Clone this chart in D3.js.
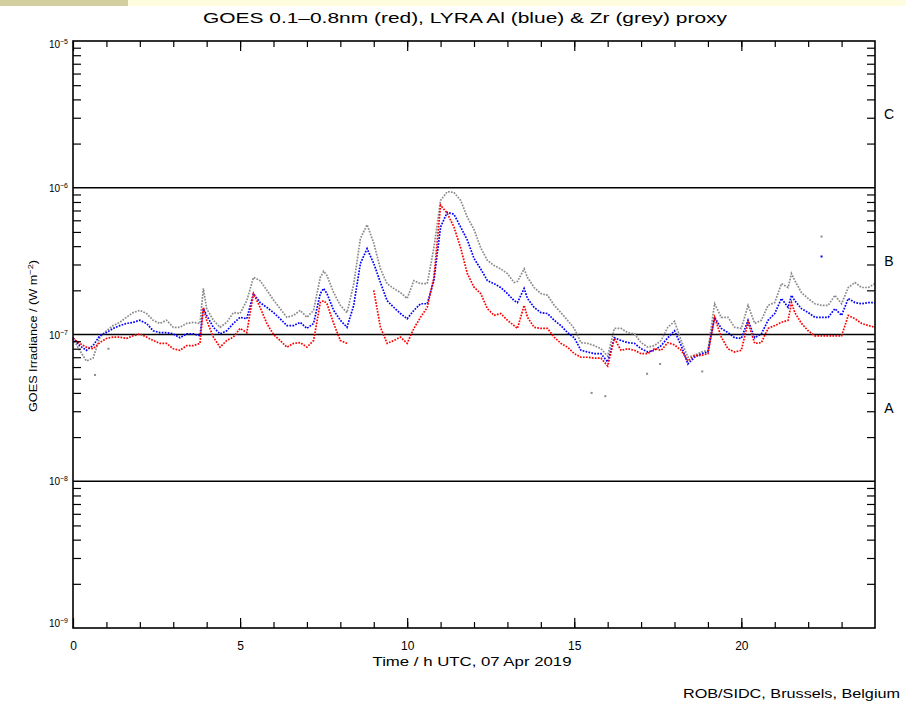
<!DOCTYPE html>
<html>
<head>
<meta charset="utf-8">
<script src="https://cdn.jsdelivr.net/npm/d3@7"></script>
<style>
  body { margin: 0; background: #fff; }
  text { font-family: "Liberation Sans", Arial, sans-serif; fill: #000; }
</style>
</head>
<body>
<svg id="chart" width="906" height="704"></svg>
<script>
// values in units of 1e-7 W m^-2
const unit = 1e-7;

const hours = [0.0,0.2,0.4,0.6,0.8,1.0,1.2,1.4,1.6,1.8,2.0,2.2,2.4,2.6,2.8,3.0,3.2,3.4,3.6,3.8,3.9,4.0,4.2,4.4,4.6,4.8,
  5.0,5.2,5.4,5.6,5.8,6.0,6.2,6.4,6.6,6.8,7.0,7.2,7.4,7.5,7.6,7.8,8.0,8.2,8.4,8.6,8.8,9.0,9.2,9.4,9.6,9.8,
  10.0,10.2,10.4,10.6,10.8,11.0,11.2,11.4,11.6,11.8,12.0,12.2,12.4,12.6,12.8,13.0,13.2,13.3,13.5,13.6,13.8,
  14.0,14.2,14.4,14.6,14.8,15.0,15.2,15.4,15.6,15.8,16.0,16.2,16.4,16.6,16.8,17.0,17.2,17.4,17.6,17.8,
  18.0,18.2,18.4,18.6,18.8,19.0,19.2,19.4,19.6,19.8,20.0,20.2,20.4,20.6,20.8,21.0,21.2,21.4,21.5,21.6,21.8,
  22.0,22.2,22.4,22.6,22.8,23.0,23.2,23.4,23.6,23.8,24.0];

const zrProxy = [0.94,0.78,0.66,0.69,0.95,1.06,1.15,1.21,1.31,1.41,1.46,1.39,1.25,1.19,1.25,1.12,1.12,1.19,1.21,1.19,2.06,1.5,1.25,1.12,1.21,1.41,
  1.39,1.7,2.45,2.33,2.0,1.72,1.5,1.31,1.35,1.46,1.31,1.46,2.45,2.7,2.52,1.93,1.58,1.41,2.2,4.5,5.6,4.2,2.8,2.22,2.06,1.93,
  1.76,2.33,2.22,2.22,3.9,8.2,9.4,9.3,8.2,6.3,5.2,3.9,3.2,2.95,2.8,2.6,2.26,2.3,2.8,2.45,2.09,
  1.9,1.85,1.58,1.41,1.25,1.1,0.88,0.87,0.84,0.80,0.71,1.1,1.1,1.03,1.01,0.88,0.82,0.84,0.91,1.12,
  1.23,0.91,0.70,0.72,0.76,0.78,1.62,1.31,1.31,1.12,1.1,1.58,1.19,1.25,1.58,1.65,2.22,2.09,2.6,2.33,1.93,
  1.76,1.62,1.58,1.58,1.85,1.62,2.09,2.26,2.09,2.09,2.22];

const alProxy = [0.95,0.84,0.78,0.84,0.98,1.03,1.1,1.15,1.19,1.21,1.25,1.19,1.06,1.03,1.03,1.01,0.95,1.01,1.01,0.98,1.5,1.35,1.12,1.01,1.06,1.19,
  1.31,1.28,1.9,1.65,1.53,1.41,1.28,1.15,1.15,1.21,1.1,1.19,1.9,2.06,1.9,1.46,1.25,1.12,1.58,3.05,3.85,3.05,2.26,1.7,1.53,1.39,
  1.28,1.46,1.62,1.62,2.33,5.4,6.8,6.6,5.4,4.4,3.3,2.8,2.33,2.22,2.09,1.9,1.7,1.65,2.06,1.76,1.53,
  1.41,1.39,1.25,1.15,1.03,0.95,0.78,0.76,0.74,0.74,0.65,0.95,0.91,0.88,0.87,0.80,0.76,0.78,0.84,0.95,
  1.06,0.84,0.63,0.70,0.74,0.76,1.31,1.1,1.03,0.95,0.94,1.25,0.95,1.01,1.25,1.39,1.76,1.53,1.85,1.7,1.5,
  1.41,1.31,1.31,1.31,1.5,1.35,1.76,1.65,1.62,1.65,1.65];

const goes = [0.94,0.87,0.82,0.80,0.88,0.94,0.96,0.96,0.94,0.98,1.01,0.96,0.91,0.87,0.87,0.80,0.78,0.84,0.84,0.87,1.53,1.25,0.96,0.82,0.91,0.96,
  1.1,1.03,1.9,1.53,1.19,1.0,0.91,0.82,0.87,0.88,0.82,0.91,1.65,1.7,1.62,1.19,0.91,0.87,null,null,null,2.0,1.12,0.87,0.91,0.96,
  0.87,1.1,1.31,1.53,2.45,7.6,6.7,5.4,3.9,2.6,2.1,1.9,1.5,1.35,1.39,1.25,1.15,1.1,1.58,1.31,1.12,
  1.1,1.1,0.96,0.87,0.82,0.74,0.70,0.70,0.69,0.69,0.61,0.94,0.78,0.80,0.78,0.74,0.74,0.80,0.78,0.88,
  0.85,0.78,0.66,0.72,0.72,0.74,1.31,0.96,0.80,0.76,0.78,1.21,0.87,0.88,1.1,1.15,1.21,1.25,1.65,1.41,1.19,
  1.06,0.98,0.98,0.98,0.98,0.98,1.35,1.28,1.19,1.15,1.12];

// isolated points away from the curves
const strayZr = [[0.66,0.53],[1.06,0.80],[15.52,0.40],[15.93,0.38],[17.18,0.54],[17.57,0.63],[18.83,0.56],[22.4,4.65]];
const strayAl = [[22.4,3.4]];

const decades = [1e-9, 1e-8, 1e-7, 1e-6, 1e-5];
const xLabels = [0, 5, 10, 15, 20];
const flareClasses = [
  {label: "A", level: Math.pow(10, -7.5)},
  {label: "B", level: Math.pow(10, -6.5)},
  {label: "C", level: Math.pow(10, -5.5)}
];

const svg = d3.select("#chart"),
      pLeft = 73, pRight = 875, pTop = 41, pBottom = 628,
      x = d3.scaleLinear().domain([0, 24]).range([pLeft, pRight]),
      y = d3.scaleLog().domain([1e-9, 1e-5]).range([pBottom, pTop]);

// strip along the top of the page
svg.append("rect").attr("x", 0).attr("y", 0).attr("width", 906).attr("height", 6).attr("fill", "#fffde0");
svg.append("rect").attr("x", 0).attr("y", 0).attr("width", 128).attr("height", 6).attr("fill", "#d4cfa0");

// decade reference lines
svg.append("g").selectAll("line")
  .data(decades.slice(1, -1))
  .enter().append("line")
    .attr("x1", pLeft).attr("x2", pRight)
    .attr("y1", d => y(d)).attr("y2", d => y(d))
    .attr("stroke", "#000").attr("stroke-width", 1.5);

// data
const series = [
  {values: zrProxy, color: "#8a8a8a", stray: strayZr},
  {values: alProxy, color: "#0000ff", stray: strayAl},
  {values: goes, color: "#ff0000", stray: []}
];

const line = d3.line()
  .defined(d => d[1] != null)
  .x(d => x(d[0]))
  .y(d => y(d[1] * unit));

series.forEach(s => {
  const pts = hours.map((h, i) => [h, s.values[i]]);
  svg.append("path")
    .datum(pts)
    .attr("d", line)
    .attr("fill", "none")
    .attr("stroke", s.color)
    .attr("stroke-width", 1.7)
    .attr("stroke-dasharray", "1.7,1.3");
  svg.append("g").selectAll("rect")
    .data(s.stray)
    .enter().append("rect")
      .attr("x", d => x(d[0]) - 1)
      .attr("y", d => y(d[1] * unit) - 1)
      .attr("width", 2).attr("height", 2)
      .attr("fill", s.color);
});

// axes, ticks pointing inwards
const minorY = [];
decades.slice(0, -1).forEach(d => { for (let m = 2; m < 10; m++) minorY.push(m * d); });

svg.append("g").attr("transform", `translate(${pLeft},0)`)
  .call(d3.axisLeft(y).tickValues(minorY).tickSize(-8).tickFormat(""));
svg.append("g").attr("transform", `translate(${pRight},0)`)
  .call(d3.axisRight(y).tickValues(minorY).tickSize(-8).tickFormat(""));

svg.append("g").attr("transform", `translate(0,${pBottom})`)
  .call(d3.axisBottom(x).tickValues(d3.range(1, 24)).tickSize(-6).tickFormat(""));
svg.append("g").attr("transform", `translate(0,${pTop})`)
  .call(d3.axisTop(x).tickValues(d3.range(1, 24)).tickSize(-6).tickFormat(""));
svg.append("g").attr("transform", `translate(0,${pTop})`)
  .call(d3.axisTop(x).tickValues(xLabels).tickSize(-10).tickFormat(""));

const xAxis = svg.append("g").attr("transform", `translate(0,${pBottom})`)
  .call(d3.axisBottom(x).tickValues(xLabels).tickSize(-10).tickPadding(13).tickFormat(d3.format("d")));
xAxis.selectAll("text").style("font-size", "12px").attr("fill", "#000");

svg.selectAll(".domain").remove();
svg.selectAll(".tick line").attr("stroke", "#000").attr("stroke-width", 1.2);

svg.append("rect")
  .attr("x", pLeft).attr("y", pTop)
  .attr("width", pRight - pLeft).attr("height", pBottom - pTop)
  .attr("fill", "none").attr("stroke", "#000").attr("stroke-width", 1.6);

// y tick labels 10^n
const yLab = svg.append("g").selectAll("text")
  .data(decades)
  .enter().append("text")
    .attr("x", 68)
    .attr("y", d => Math.min(Math.max(y(d) + 4, pTop + 7), pBottom - 1))
    .attr("text-anchor", "end")
    .style("font-size", "10px");
yLab.append("tspan").text("10");
yLab.append("tspan").attr("dy", -4).style("font-size", "7px")
  .text(d => "\u2212" + Math.round(-Math.log10(d)));

// flare class letters
svg.append("g").selectAll("text")
  .data(flareClasses)
  .enter().append("text")
    .attr("x", 889)
    .attr("y", d => y(d.level) + 5)
    .attr("text-anchor", "middle")
    .style("font-size", "14px")
    .text(d => d.label);

// titles
svg.append("text")
  .attr("x", 465).attr("y", 23)
  .attr("text-anchor", "middle")
  .attr("textLength", 524).attr("lengthAdjust", "spacingAndGlyphs")
  .style("font-size", "15px")
  .text("GOES 0.1\u20130.8nm (red), LYRA Al (blue) & Zr (grey) proxy");

svg.append("text")
  .attr("x", 472).attr("y", 666)
  .attr("text-anchor", "middle")
  .attr("textLength", 199).attr("lengthAdjust", "spacingAndGlyphs")
  .style("font-size", "12px")
  .text("Time / h UTC, 07 Apr 2019");

const yTitle = svg.append("text")
  .attr("transform", "translate(37,336) rotate(-90)")
  .attr("text-anchor", "middle")
  .attr("textLength", 152).attr("lengthAdjust", "spacingAndGlyphs")
  .style("font-size", "11px");
yTitle.append("tspan").text("GOES Irradiance / (W m");
yTitle.append("tspan").attr("dy", -4).style("font-size", "8px").text("\u22122");
yTitle.append("tspan").attr("dy", 4).text(")");

svg.append("text")
  .attr("x", 900).attr("y", 698)
  .attr("text-anchor", "end")
  .attr("textLength", 217).attr("lengthAdjust", "spacingAndGlyphs")
  .style("font-size", "12px")
  .text("ROB/SIDC, Brussels, Belgium");
</script>
</body>
</html>
